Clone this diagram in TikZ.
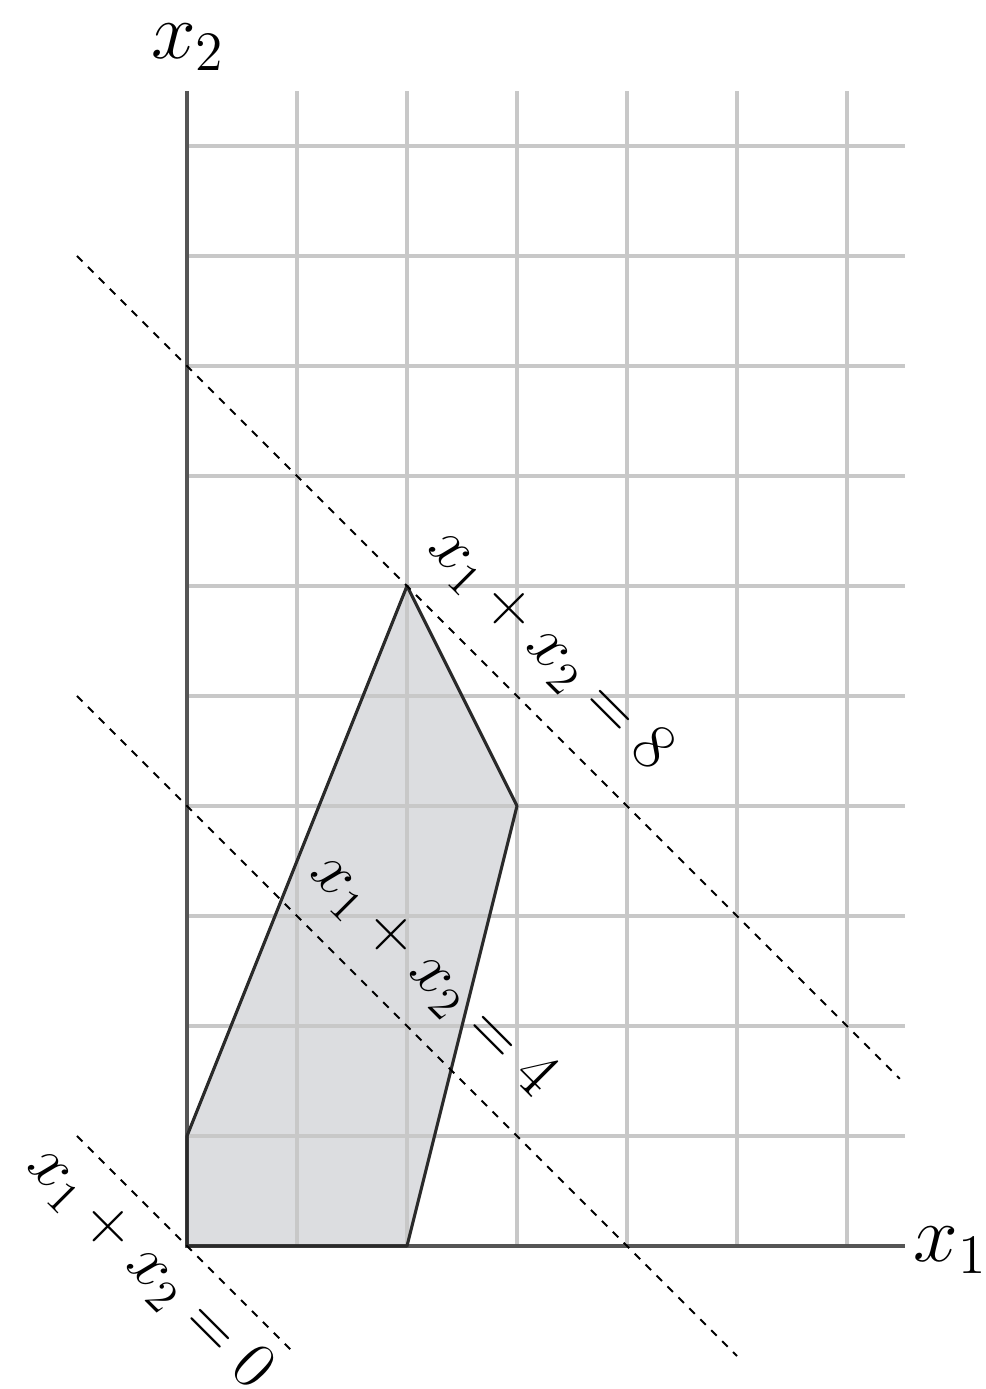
\documentclass[tikz,border=0pt]{standalone}
\definecolor{gGrid}{HTML}{C8C8C8}
\definecolor{gAxis}{HTML}{555555}
\definecolor{gFill}{HTML}{DCDDE0}
\definecolor{gEdge}{HTML}{2A2A2A}
\usetikzlibrary{positioning}

\begin{document}
\begin{tikzpicture}[
  gridl/.style={draw=gGrid, line width=0.8pt},
  axisl/.style={draw=gAxis, line width=0.9pt},
  region/.style={fill=gFill},
  edge/.style={draw=gEdge, line width=0.8pt, line join=round},
  level/.style={draw=black, line width=0.5pt, dash pattern=on 2pt off 2pt},
  lvl/.style={font=\fontsize{17}{20}\selectfont, rotate=-45, inner sep=0pt},
  ax/.style={font=\fontsize{21}{24}\selectfont, inner sep=0pt}]
  \useasboundingbox (-1.7,-1.3) rectangle (7.255,11.327);
  \fill[region] (0,0) -- (2,0) -- (3,4) -- (2,6) -- (0,1) -- cycle;
  \foreach \i in {1,...,6} \draw[gridl] (\i,0) -- (\i,10.5);
  \foreach \j in {1,...,10} \draw[gridl] (0,\j) -- (6.53,\j);
  \draw[axisl] (0,10.5) -- (0,0) -- (6.53,0);
  \draw[edge] (0,0) -- (2,0) -- (3,4) -- (2,6) -- (0,1) -- cycle;
  \draw[level] (-1,9) -- (6.48,1.52);
  \draw[level] (-1,5) -- (5,-1);
  \draw[level] (-1,1) -- (0.97,-0.97);
  \node[ax] (xa) at (6.94,-0.04) {$x_1$};
  \node[ax] (ya) at (0.01,10.9) {$x_2$};
  \node[lvl] (l8) at (3.3,5.42) {$x_1 + x_2 = 8$};
  \node[lvl] (l4) at (2.23,2.46) {$x_1 + x_2 = 4$};
  \node[lvl] (l0) at (-0.34,-0.2) {$x_1 + x_2 = 0$};
\end{tikzpicture}
\end{document}
